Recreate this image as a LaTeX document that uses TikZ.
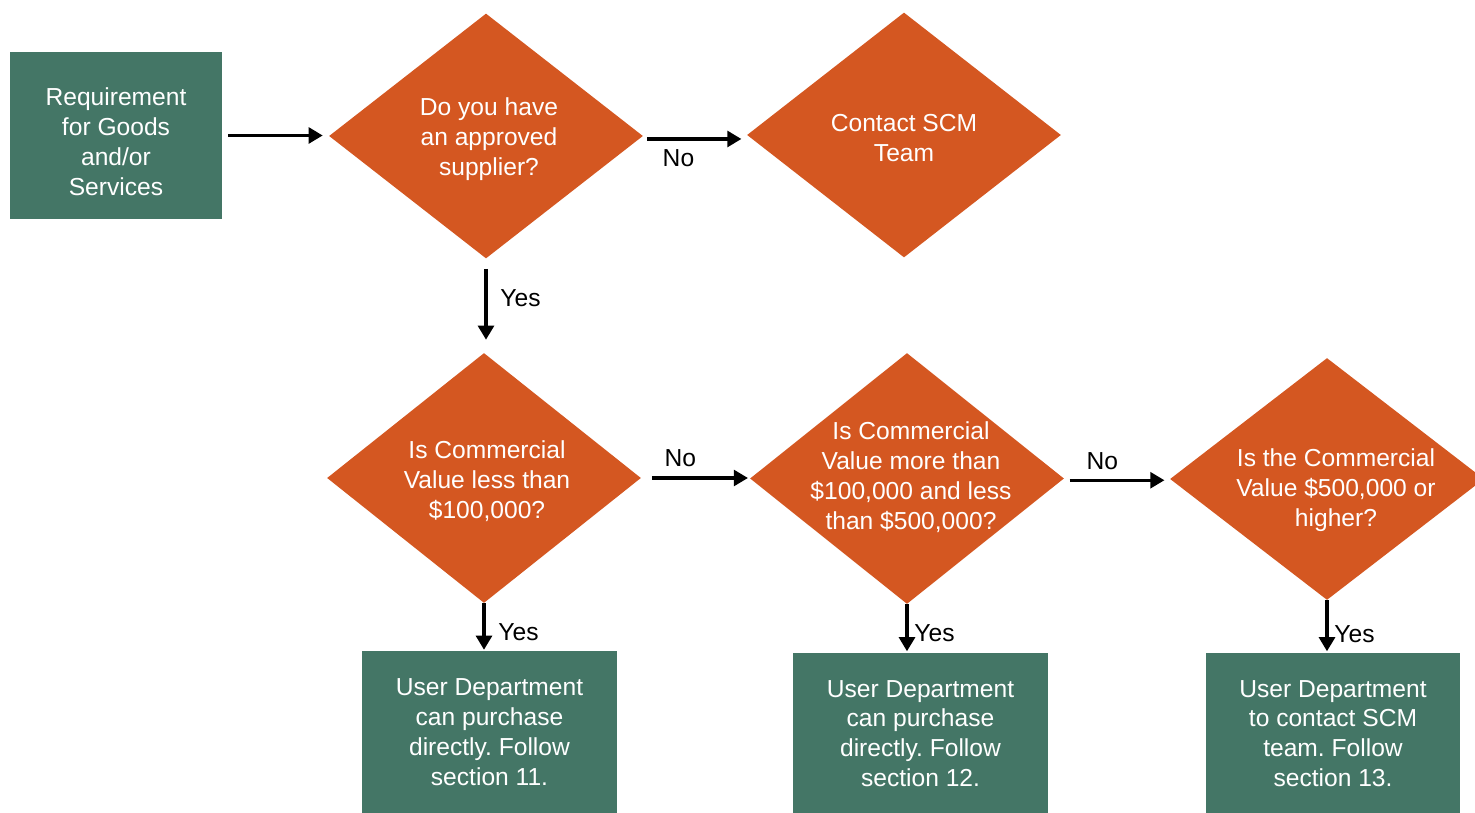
\documentclass[tikz,border=0pt]{standalone}
\usepackage{fontspec}
\setmainfont{Liberation Sans}
\frenchspacing
\usetikzlibrary{shapes.geometric,arrows.meta}

\definecolor{boxgreen}{HTML}{447666}
\definecolor{choiceorange}{HTML}{D45721}

\tikzset{
    action/.style={rectangle, fill=boxgreen, text=white, align=center,
        minimum width=5.1cm, minimum height=3.24cm, inner sep=0pt},
    decision/.style={diamond, fill=choiceorange, inner sep=0pt,
        minimum width=6.28cm, minimum height=4.9cm},
    qtext/.style={text=white, align=center},
    flow/.style={-{Triangle[length=8pt,width=9pt]}, line width=1.8pt,
        shorten <=3pt, shorten >=3pt},
    answer/.style={text=black, font=\fontsize{14}{17}\selectfont}
}

\begin{document}
\begin{tikzpicture}[x=0.02cm, y=-0.02cm, font=\fontsize{14}{17}\selectfont]
    \clip (0,0) rectangle (1475,813);
    \fill[white] (0,0) rectangle (1475,813);

    % top row
    \node[action, minimum width=4.24cm, minimum height=3.34cm] (req) at (116,135.5) {};
    \node[qtext] at (116,141.5) {Requirement\\for Goods\\and/or\\Services};
    \node[decision] (approved) at (486,136) {};
    \node[qtext] at (489,139) {Do you have\\an approved\\supplier?};
    \node[decision] (contact) at (904,135) {};
    \node[qtext] at (904,138) {Contact SCM\\Team};

    % value checks
    \node[decision, minimum height=5cm] (less) at (484,478) {};
    \node[qtext] at (487,481) {Is Commercial\\Value less than\\\$100,000?};
    \node[decision, minimum height=5.02cm] (between) at (907,478.5) {};
    \node[qtext] at (911,477) {Is Commercial\\Value more than\\\$100,000 and less\\than \$500,000?};
    \node[decision, minimum height=4.84cm] (higher) at (1327,479) {};
    \node[qtext] at (1336,490) {Is the Commercial\\Value \$500,000 or\\higher?};

    % outcomes
    \node[action] (sec11) at (489.5,732) {User Department\\can purchase\\directly. Follow\\section 11.};
    \node[action] (sec12) at (920.5,733.5) {User Department\\can purchase\\directly. Follow\\section 12.};
    \node[action] (sec13) at (1333,733.5) {User Department\\to contact SCM\\team. Follow\\section 13.};

    % connectors
    \draw[flow, shorten <=3.4pt, shorten >=3.4pt] (req) -- (req -| approved.west);
    \draw[flow, shorten <=2.3pt] ([yshift=-1.7pt]approved.east) -- ([yshift=-1.7pt]approved.east -| contact.west)
        node[answer, pos=0.34, below=2pt] {No};
    \draw[flow, shorten <=10*0.567pt, shorten >=13*0.567pt] (approved.south) -- (approved.south |- less.north)
        node[answer, pos=0.42, right=4pt] {Yes};
    \draw[flow, shorten <=6pt, shorten >=1pt] (less.east) -- (less.east -| between.west)
        node[answer, pos=0.36, above=2pt] {No};
    \draw[flow] ([yshift=-1pt]between.east) -- ([yshift=-1pt]between.east -| higher.west)
        node[answer, pos=0.36, above=2pt] {No};
    \draw[flow, shorten <=0pt, shorten >=0.5pt] (less.south) -- (less.south |- sec11.north)
        node[answer, pos=0.6, right=4pt] {Yes};
    \draw[flow, shorten <=0pt, shorten >=0.5pt] (between.south) -- (between.south |- sec12.north)
        node[answer, pos=0.6, right=0pt] {Yes};
    \draw[flow, shorten <=0pt, shorten >=0.5pt] (higher.south) -- (higher.south |- sec13.north)
        node[answer, pos=0.65, right=0pt] {Yes};
\end{tikzpicture}
\end{document}
